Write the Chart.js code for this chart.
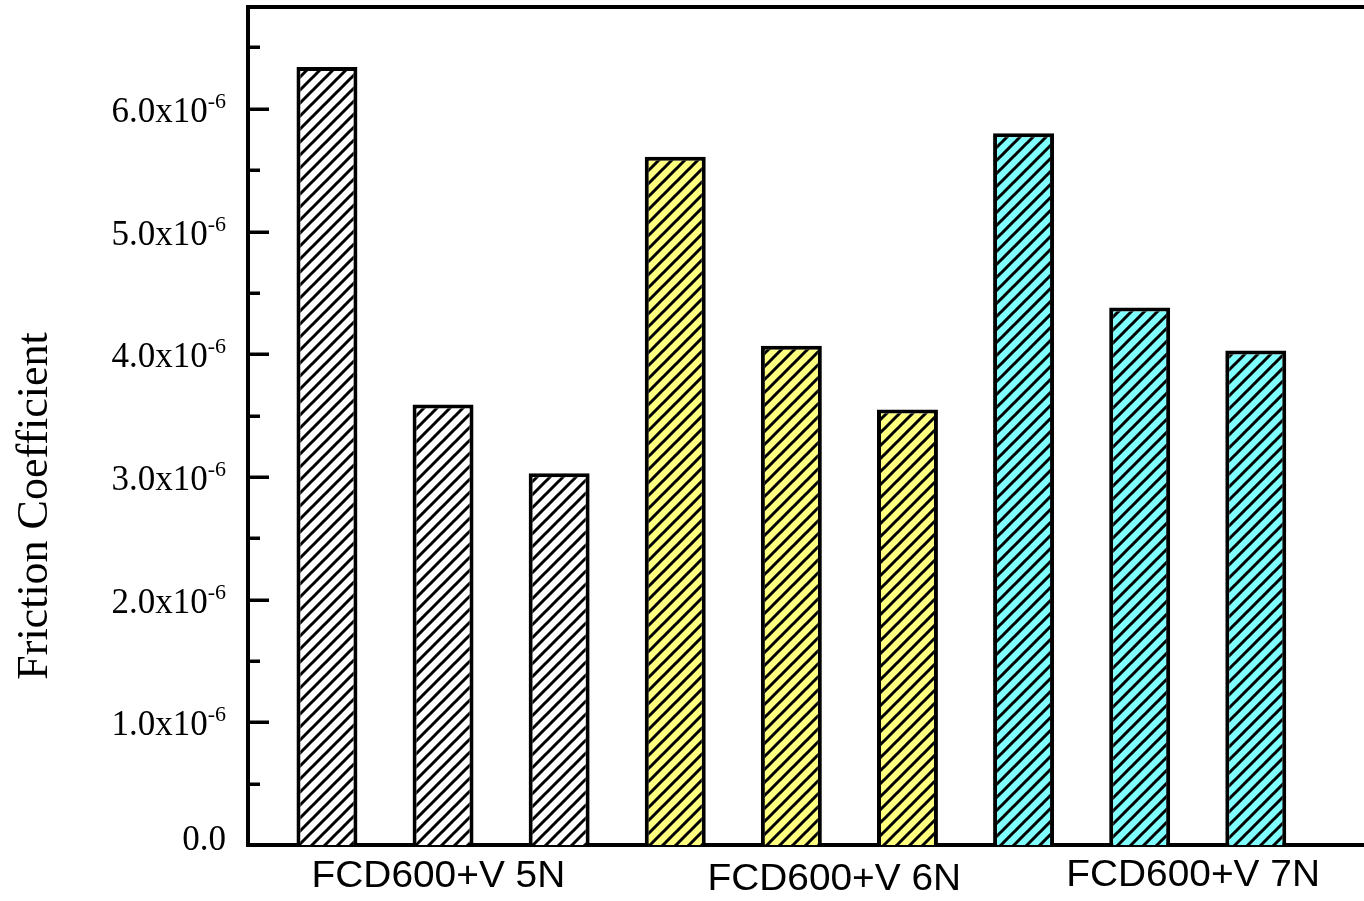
<!DOCTYPE html>
<html>
<head>
<meta charset="utf-8">
<script src="https://cdn.jsdelivr.net/npm/chart.js@4/dist/chart.umd.min.js"></script>
<style>
  html, body { margin: 0; padding: 0; background: #fff; overflow: hidden; }
  #wrap { position: relative; width: 1392px; height: 901px; }
</style>
</head>
<body>
<div id="wrap"><canvas id="c"></canvas></div>
<script>
// ---- data ----
const groupLabels = ['FCD600+V 5N', 'FCD600+V 6N', 'FCD600+V 7N'];
const values5N = [6.34e-6, 3.59e-6, 3.03e-6];
const values6N = [5.61e-6, 4.07e-6, 3.55e-6];
const values7N = [5.80e-6, 4.38e-6, 4.03e-6];
const yTickValues = [0, 1e-6, 2e-6, 3e-6, 4e-6, 5e-6, 6e-6];
const yTickMantissa = ['0.0', '1.0', '2.0', '3.0', '4.0', '5.0', '6.0'];
const yTickExponent = '-6';
const yTitle = 'Friction Coefficient';

// ---- styles ----
const groupFills = ['#ffffff', '#ffff80', '#80ffff'];
// where each group label sits, in x-axis units
const groupLabelX = [1.96, 5.37, 8.46];
const groupLabelBaseline = [887, 890, 886];

function hatch(bg) {
  const s = 13;
  const t = document.createElement('canvas');
  t.width = s; t.height = s;
  const g = t.getContext('2d');
  g.fillStyle = bg; g.fillRect(0, 0, s, s);
  g.strokeStyle = '#000'; g.lineWidth = 3;
  g.beginPath();
  g.moveTo(-2, s + 2); g.lineTo(s + 2, -2);
  g.moveTo(-2, 2); g.lineTo(2, -2);
  g.moveTo(s - 2, s + 2); g.lineTo(s + 2, s - 2);
  g.stroke();
  const ctx = document.getElementById('c').getContext('2d');
  return ctx.createPattern(t, 'repeat');
}

const allGroups = [values5N, values6N, values7N];
const datasets = allGroups.map((vals, g) => ({
  label: groupLabels[g],
  data: vals.map((v, j) => ({ x: g * 3 + j + 1, y: v })),
  backgroundColor: hatch(groupFills[g]),
  borderColor: '#000',
  borderWidth: 4,
  borderSkipped: 'start',
  barPercentage: 0.525,
  categoryPercentage: 1.0,
  grouped: false
}));

const framePlugin = {
  id: 'frame',
  afterDraw(chart) {
    const ctx = chart.ctx;
    const a = chart.chartArea;
    const ys = chart.scales.y;
    const xs = chart.scales.x;
    ctx.save();
    // top frame line
    ctx.strokeStyle = '#000';
    ctx.lineWidth = 4;
    ctx.beginPath();
    ctx.moveTo(a.left - 2, a.top);
    ctx.lineTo(a.right, a.top);
    ctx.stroke();
    // inward ticks (major + minor)
    ctx.lineWidth = 3.5;
    for (let k = 1; k <= 13; k++) {
      const y = Math.round(ys.getPixelForValue(k * 0.5e-6)) + 0.25;
      const len = (k % 2 === 0) ? 21 : 12;
      ctx.beginPath();
      ctx.moveTo(a.left, y);
      ctx.lineTo(a.left + len, y);
      ctx.stroke();
    }
    // y tick labels with superscript
    ctx.fillStyle = '#000';
    ctx.textAlign = 'right';
    ctx.textBaseline = 'alphabetic';
    const rightX = 226;
    yTickValues.forEach((v, i) => {
      const y = ys.getPixelForValue(v);
      if (v === 0) {
        ctx.font = '35px "Liberation Serif"';
        ctx.fillText(yTickMantissa[i], rightX, y + 5);
      } else {
        ctx.font = '22px "Liberation Serif"';
        const supW = ctx.measureText(yTickExponent).width;
        ctx.fillText(yTickExponent, rightX, y - 1);
        ctx.font = '35px "Liberation Serif"';
        ctx.fillText(yTickMantissa[i] + 'x10', rightX - supW, y + 13);
      }
    });
    // y title
    ctx.save();
    ctx.font = '44px "Liberation Serif"';
    ctx.textAlign = 'center';
    ctx.textBaseline = 'middle';
    ctx.translate(35, 506);
    ctx.rotate(-Math.PI / 2);
    ctx.fillText(yTitle, 0, 0);
    ctx.restore();
    // group labels
    ctx.font = '37px "Liberation Sans"';
    ctx.textAlign = 'center';
    ctx.textBaseline = 'alphabetic';
    groupLabels.forEach((t, i) => {
      const x = xs.getPixelForValue(groupLabelX[i]);
      ctx.save();
      ctx.translate(x, groupLabelBaseline[i]);
      ctx.scale(1.05, 1);
      ctx.fillText(t, 0, 0);
      ctx.restore();
    });
    ctx.restore();
  }
};

new Chart(document.getElementById('c'), {
  type: 'bar',
  data: { datasets },
  options: {
    responsive: true,
    maintainAspectRatio: false,
    animation: false,
    devicePixelRatio: 1,
    layout: { padding: { top: 7, right: 12, left: 0, bottom: 0 } },
    plugins: { legend: { display: false }, tooltip: { enabled: false } },
    scales: {
      x: {
        type: 'linear',
        offset: false,
        min: 0.32,
        max: 10.07,
        grid: { display: false, drawTicks: false, offset: false },
        ticks: { display: false },
        border: { display: true, color: '#000', width: 4 },
        afterFit(s) { s.height = 56; }
      },
      y: {
        type: 'linear',
        min: 0,
        max: 6.83e-6,
        grid: { display: false, drawTicks: false },
        ticks: { display: false },
        border: { display: true, color: '#000', width: 4 },
        afterFit(s) { s.width = 248; }
      }
    }
  },
  plugins: [framePlugin]
});
</script>
</body>
</html>
